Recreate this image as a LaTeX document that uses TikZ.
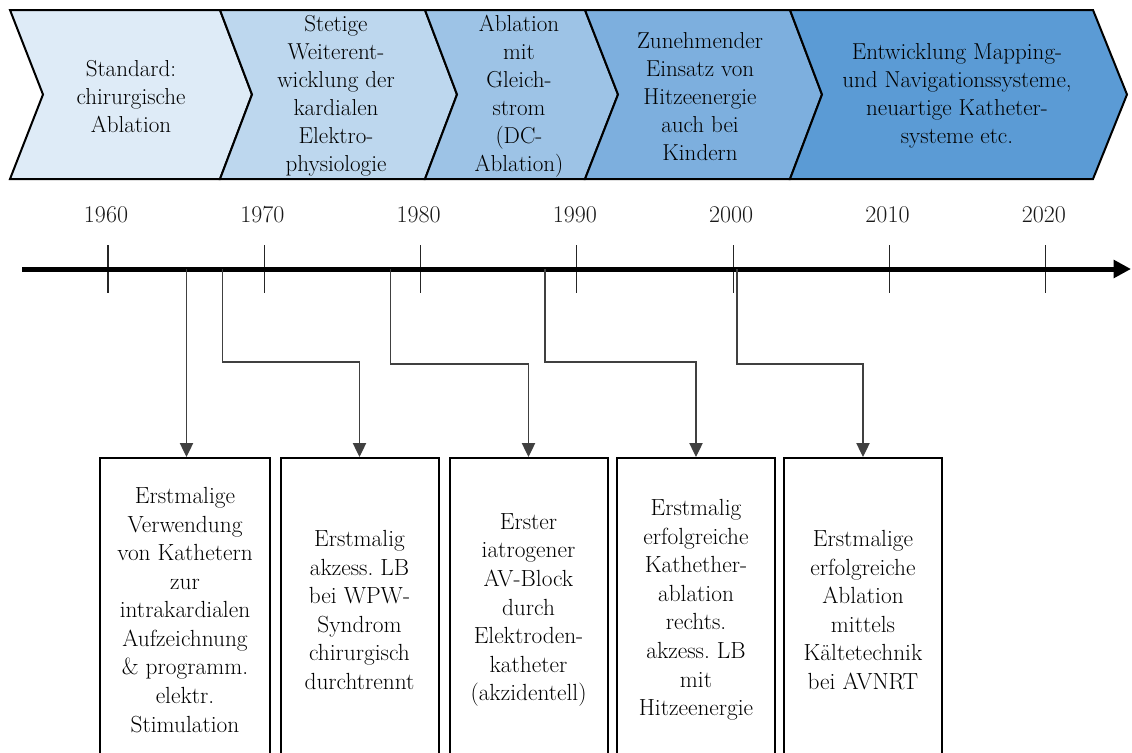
\documentclass[tikz,border=0pt]{standalone}
\usepackage{fontspec}
\usepackage{tikz}
\usetikzlibrary{arrows, arrows.meta, positioning}

\definecolor{phaseA}{HTML}{DEEBF7}
\definecolor{phaseB}{HTML}{BDD7EE}
\definecolor{phaseC}{HTML}{9DC3E6}
\definecolor{phaseD}{HTML}{7DAFDE}
\definecolor{phaseE}{HTML}{5B9BD5}

\begin{document}
\frenchspacing
\begin{tikzpicture}[x=0.75pt,y=-0.75pt,
  phase/.style={draw=black,line width=1.5pt,line join=miter},
  phase text/.style={align=center,text=black,inner sep=0pt,
  font=\fontsize{17.3}{21}\selectfont},
  year/.style={text=black!90,font=\fontsize{18}{20}\selectfont},
  tick/.style={draw=black!85,line width=0.8pt},
  event box/.style={rectangle,draw,line width=1.5pt,anchor=north,
  minimum width=118.5pt,minimum height=228pt,align=center,text=black,
  font=\fontsize{17.5}{21.4}\selectfont},
  conn/.style={draw=black!75,line width=0.9pt,-{Triangle[width=10pt,length=10.5pt]}}]

  \useasboundingbox (0,0) rectangle (1132,753);
  \clip (0,0) rectangle (1132,753);

  % phases
  \path[phase,fill=phaseA] (10,10) -- (220,10) -- (252,94.5) -- (220,179) -- (10,179) -- (43,94.5) -- cycle;
  \path[phase,fill=phaseB] (220,10) -- (425,10) -- (457,94.5) -- (425,179) -- (220,179) -- (252,94.5) -- cycle;
  \path[phase,fill=phaseC] (425,10) -- (585,10) -- (618,94.5) -- (585,179) -- (425,179) -- (457,94.5) -- cycle;
  \path[phase,fill=phaseD] (585,10) -- (790,10) -- (822,94.5) -- (790,179) -- (585,179) -- (618,94.5) -- cycle;
  \path[phase,fill=phaseE] (790,10) -- (1093,10) -- (1127,94.5) -- (1093,179) -- (790,179) -- (822,94.5) -- cycle;

  \node[phase text] (P1) at (131,97) {Standard:\\chirurgische\\Ablation};
  \node[phase text] (P2) at (336,96) {Stetige\\Weiterent-\\wicklung der\\kardialen\\Elektro-\\physiologie};
  \node[phase text] (P3) at (519,96) {Ablation\\mit\\Gleich-\\strom\\(DC-\\Ablation)};
  \node[phase text] (P4) at (700,97) {Zunehmender\\Einsatz von\\Hitzeenergie\\auch bei\\Kindern};
  \node[phase text] (P5) at (957,96) {Entwicklung Mapping-\\und Navigationssysteme,\\neuartige Katheter-\\systeme etc.};

  % timeline
  \foreach \yr [count=\i from 0] in {1960,1970,...,2020} {
    \draw[tick] (108+156.3*\i,245) -- (108+156.3*\i,293);
    \node[year] (Y\yr) at (106+156.3*\i,215) {\yr};
  }
  \coordinate (TL0) at (22,269);
  \coordinate (TL1) at (1131,269);
  \draw[line width=3.75pt,-{Triangle[length=13pt,width=13pt]}] (TL0) -- (TL1);

  \coordinate (E1) at (186.5,269);
  \coordinate (E2) at (222.5,269);
  \coordinate (E3) at (390.5,269);
  \coordinate (E4) at (545,269);
  \coordinate (E5) at (737,269);

  % events
  \node[event box,minimum width=127.5pt] (B1) at (185,457) {Erstmalige\\Verwendung\\von Kathetern\\zur\\intrakardialen\\Aufzeichnung\\\& programm.\\elektr.\\Stimulation};
  \node[event box] (B2) at (359.5,457) {Erstmalig\\akzess. LB\\bei WPW-\\Syndrom\\chirurgisch\\durchtrennt};
  \node[event box] (B3) at (528.5,457) {Erster\\iatrogener\\AV-Block\\durch\\Elektroden-\\katheter\\(akzidentell)};
  \node[event box] (B4) at (696,457) {Erstmalig\\erfolgreiche\\Kathether-\\ablation\\rechts.\\akzess. LB\\mit\\Hitzeenergie};
  \node[event box] (B5) at (863,457) {Erstmalige\\erfolgreiche\\Ablation\\mittels\\Kältetechnik\\bei AVNRT};

  \draw[conn] (E1) -- (E1 |- B1.north);
  \draw[conn] (E2) -- ++(0,93) -| (B2.north);
  \draw[conn] (E3) -- ++(0,95) -| (B3.north);
  \draw[conn] (E4) -- ++(0,93) -| (B4.north);
  \draw[conn] (E5) -- ++(0,95) -| (B5.north);
\end{tikzpicture}
\end{document}
